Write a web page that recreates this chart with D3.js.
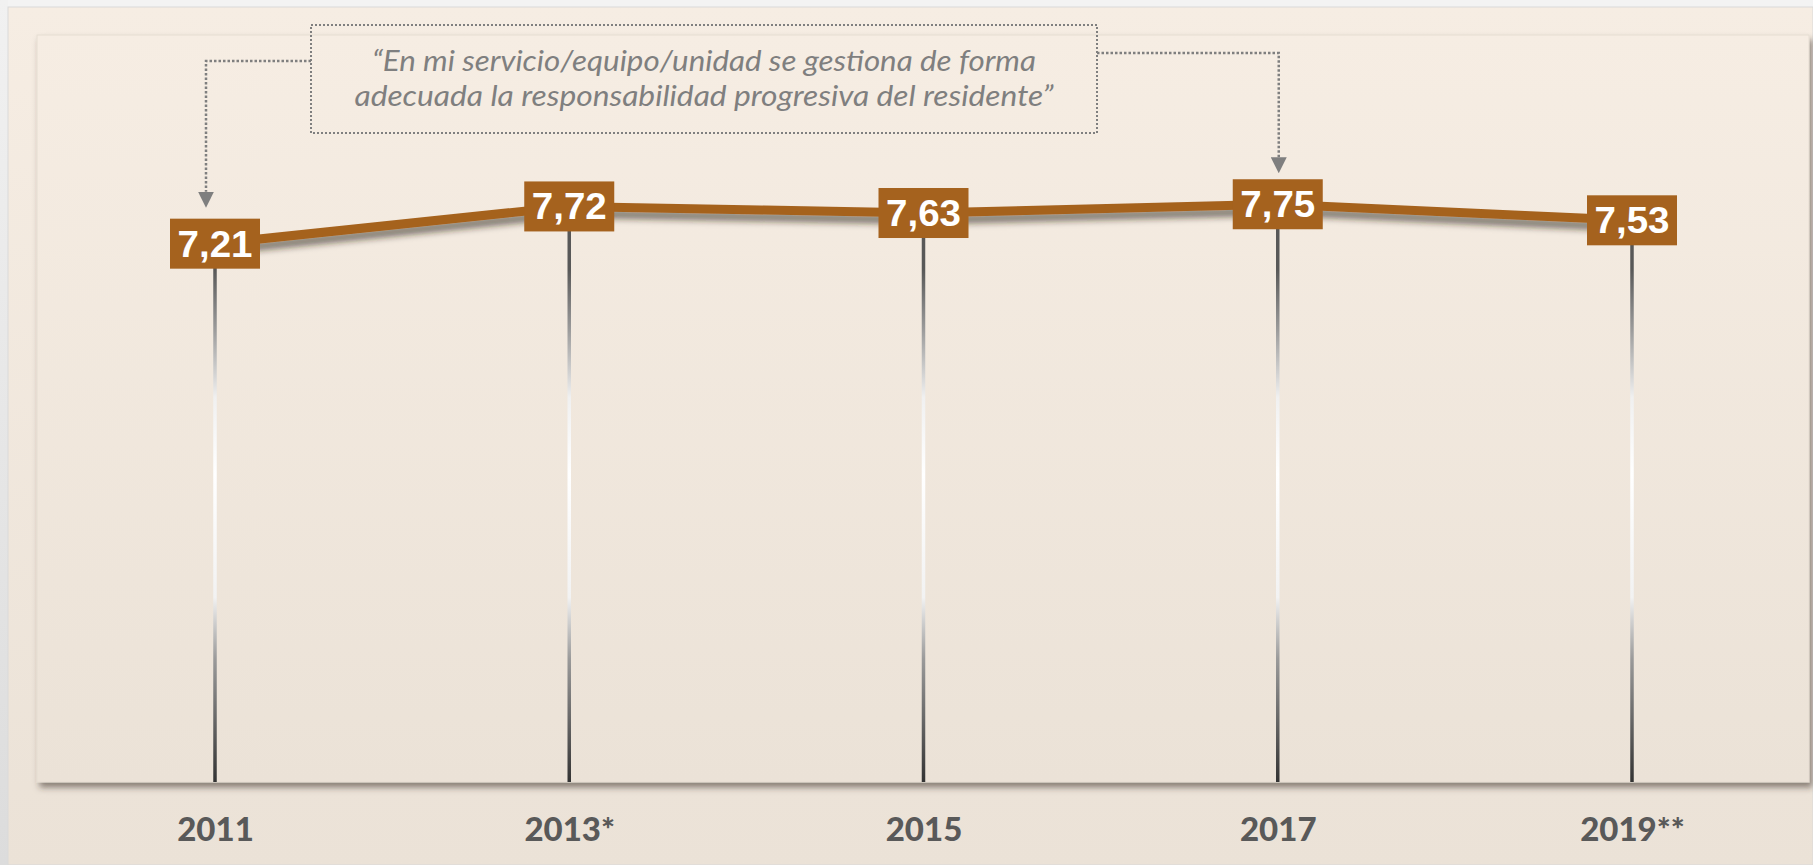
<!DOCTYPE html>
<html>
<head>
<meta charset="utf-8">
<script src="https://cdn.jsdelivr.net/npm/d3@7"></script>
<style>
  body { margin: 0; background: #f2f2f2; }
  svg { display: block; }
</style>
</head>
<body>
<div id="chart"></div>
<script>
/*** DATA ***/
const years = ["2011", "2013*", "2015", "2017", "2019**"];
const values = [7.21, 7.72, 7.63, 7.75, 7.53];
const quoteLines = [
    "“En mi servicio/equipo/unidad se gestiona de forma",
    "adecuada la responsabilidad progresiva del residente”"
];
// the quote points at these two years
const arrowYears = ["2011", "2017"];

/*** GRAPH ***/
const width = 1813, height = 865;
const panel = {left: 37, top: 35, right: 1809, bottom: 782};
const brown = "#a5621e";

const esFormat = d3.formatLocale({decimal: ",", thousands: ".", grouping: [3], currency: ["", "€"]}).format(".2f");

const svg = d3.select("#chart").append("svg")
    .attr("width", width)
    .attr("height", height);

const defs = svg.append("defs");

let pageGrad = defs.append("linearGradient").attr("id", "pageGrad")
    .attr("x1", 0).attr("y1", 0).attr("x2", 0).attr("y2", 1);
pageGrad.append("stop").attr("offset", "0%").attr("stop-color", "#f6ede3");
pageGrad.append("stop").attr("offset", "100%").attr("stop-color", "#ebe2d7");

let edgeGrad = defs.append("linearGradient").attr("id", "edgeGrad")
    .attr("x1", 0).attr("y1", 0).attr("x2", 0).attr("y2", 1);
edgeGrad.append("stop").attr("offset", "0%").attr("stop-color", "#f1f1f1");
edgeGrad.append("stop").attr("offset", "100%").attr("stop-color", "#dcdcdc");

// drop lines: dark at both ends, white in the middle
let dropGrad = defs.append("linearGradient").attr("id", "dropGrad")
    .attr("gradientUnits", "userSpaceOnUse")
    .attr("x1", 0).attr("y1", 269).attr("x2", 0).attr("y2", panel.bottom);
[[0, "#585858"], [0.12, "#9c9c9c"], [0.25, "#f0f0f0"], [0.4, "#ffffff"],
 [0.64, "#f2f2f2"], [0.76, "#9a9a9a"], [1, "#333333"]].forEach(function (s) {
    dropGrad.append("stop").attr("offset", s[0]).attr("stop-color", s[1]);
});

let panelShadow = defs.append("filter").attr("id", "panelShadow")
    .attr("x", "-2%").attr("y", "-2%").attr("width", "104%").attr("height", "106%");
panelShadow.append("feDropShadow").attr("dx", 3).attr("dy", 5)
    .attr("stdDeviation", 3).attr("flood-color", "#3a3026").attr("flood-opacity", 0.55);

let lineShadow = defs.append("filter").attr("id", "lineShadow")
    .attr("x", "-5%").attr("y", "-50%").attr("width", "110%").attr("height", "300%");
lineShadow.append("feDropShadow").attr("dx", 0).attr("dy", 7)
    .attr("stdDeviation", 3).attr("flood-color", "#2a2118").attr("flood-opacity", 0.55);

// arrow head drawn along +x, the line ends at its base
defs.append("marker").attr("id", "arrowHead")
    .attr("viewBox", "0 0 16 16").attr("refX", 0).attr("refY", 8)
    .attr("markerWidth", 16).attr("markerHeight", 16)
    .attr("markerUnits", "userSpaceOnUse").attr("orient", "auto")
    .append("path").attr("d", "M0,0 L16,8 L0,16 Z").attr("fill", "#7f7f7f");

// page background
svg.append("rect").attr("width", width).attr("height", height).attr("fill", "#f3f3f3");
svg.append("rect").attr("x", 0).attr("y", 0).attr("width", 8).attr("height", height).attr("fill", "url(#edgeGrad)");
svg.append("rect").attr("x", 8).attr("y", 7).attr("width", width - 8).attr("height", height - 7)
    .attr("fill", "url(#pageGrad)").attr("stroke", "#d9d9d9").attr("stroke-width", 1);

// inner panel
svg.append("rect")
    .attr("x", panel.left).attr("y", panel.top)
    .attr("width", panel.right - panel.left).attr("height", panel.bottom - panel.top)
    .attr("fill", "url(#pageGrad)")
    .attr("stroke", "#e6ddd2").attr("stroke-width", 1)
    .attr("filter", "url(#panelShadow)");

/*** SCALES ***/
let x = d3.scalePoint().domain(years).range([215, 1632]);
let y = d3.scaleLinear().domain([0, 10]).range([770, 40]);

const data = years.map(function (d, i) { return {year: d, value: values[i]}; });

// x axis labels
let xAxis = svg.append("g")
    .attr("transform", "translate(0," + panel.bottom + ")")
    .call(d3.axisBottom(x).tickSize(0).tickPadding(36));
xAxis.select(".domain").remove();
xAxis.selectAll("text")
    .attr("fill", "#595959")
    .attr("font-family", "Lato, 'Open Sans', sans-serif")
    .attr("font-weight", "900")
    .attr("font-size", 33);

// vertical drop lines
svg.selectAll(".drop")
    .data(data)
    .enter().append("rect")
    .attr("class", "drop")
    .attr("x", function (d) { return x(d.year) - 1.75; })
    .attr("y", function (d) { return y(d.value); })
    .attr("width", 3.5)
    .attr("height", function (d) { return panel.bottom - y(d.value); })
    .attr("fill", "url(#dropGrad)");

// the line
const line = d3.line()
    .x(function (d) { return x(d.year); })
    .y(function (d) { return y(d.value); });

svg.append("path")
    .datum(data)
    .attr("d", line)
    .attr("fill", "none")
    .attr("stroke", brown)
    .attr("stroke-width", 9)
    .attr("filter", "url(#lineShadow)");

// value boxes
let labels = svg.selectAll(".valueLabel")
    .data(data)
    .enter().append("g")
    .attr("class", "valueLabel")
    .attr("transform", function (d) { return "translate(" + x(d.year) + "," + y(d.value) + ")"; });

labels.append("rect")
    .attr("x", -45).attr("y", -25)
    .attr("width", 90).attr("height", 50)
    .attr("fill", brown);

labels.append("text")
    .attr("y", 13)
    .attr("text-anchor", "middle")
    .attr("fill", "#ffffff")
    .attr("font-family", "'Liberation Sans', Arial, sans-serif")
    .attr("font-weight", "bold")
    .attr("font-size", 36)
    .attr("textLength", 75)
    .attr("lengthAdjust", "spacingAndGlyphs")
    .text(function (d) { return esFormat(d.value); });

/*** QUOTE ***/
const note = {left: 311, top: 25, right: 1097, bottom: 133};
const dotted = {stroke: "#7f7f7f", width: 2.5, dash: "2.5,2"};

svg.append("rect")
    .attr("x", note.left).attr("y", note.top)
    .attr("width", note.right - note.left).attr("height", note.bottom - note.top)
    .attr("fill", "none")
    .attr("stroke", dotted.stroke).attr("stroke-width", 2)
    .attr("stroke-dasharray", "2,2");

const noteWidths = [664, 699];
svg.selectAll(".quote")
    .data(quoteLines)
    .enter().append("text")
    .attr("class", "quote")
    .attr("x", (note.left + note.right) / 2)
    .attr("y", function (d, i) { return 71 + i * 35; })
    .attr("text-anchor", "middle")
    .attr("fill", "#7f7f7f")
    .attr("font-family", "Lato, 'Open Sans', sans-serif")
    .attr("font-style", "italic")
    .attr("font-size", 29)
    .attr("textLength", function (d, i) { return noteWidths[i]; })
    .attr("lengthAdjust", "spacingAndGlyphs")
    .text(function (d) { return d; });

// connectors from the quote down to the two points
const arrowInfo = [
    {year: arrowYears[0], fromX: note.left, fromY: 61, dx: -9, gap: 11},
    {year: arrowYears[1], fromX: note.right, fromY: 53, dx: 1, gap: 6}
];
svg.selectAll(".connector")
    .data(arrowInfo)
    .enter().append("path")
    .attr("class", "connector")
    .attr("d", function (a) {
        const v = values[years.indexOf(a.year)];
        const ax = x(a.year) + a.dx;
        const baseY = y(v) - 25 - a.gap - 16;
        return "M" + a.fromX + "," + a.fromY + " H" + ax + " V" + baseY;
    })
    .attr("fill", "none")
    .attr("stroke", dotted.stroke).attr("stroke-width", dotted.width)
    .attr("stroke-dasharray", dotted.dash)
    .attr("marker-end", "url(#arrowHead)");
</script>
</body>
</html>
